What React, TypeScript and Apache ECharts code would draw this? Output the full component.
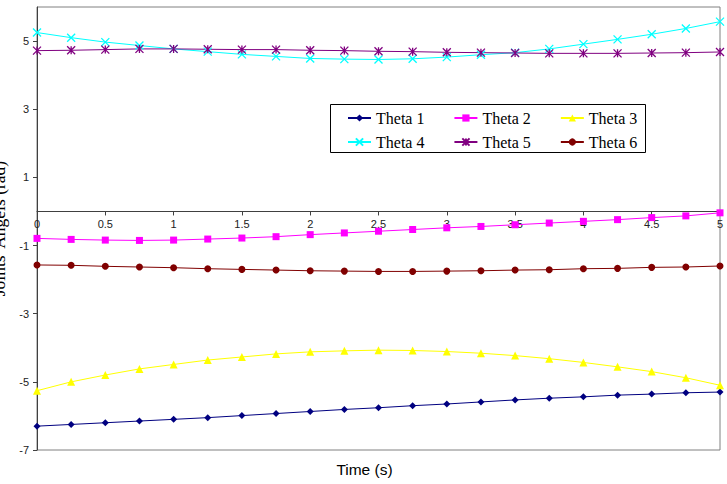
import React, { useEffect, useRef } from "react";
import * as echarts from "echarts";

const times = [0, 0.25, 0.5, 0.75, 1, 1.25, 1.5, 1.75, 2, 2.25, 2.5, 2.75, 3, 3.25, 3.5, 3.75, 4, 4.25, 4.5, 4.75, 5];

const theta1 = [-6.30, -6.25, -6.20, -6.15, -6.10, -6.05, -5.99, -5.93, -5.87, -5.81, -5.76, -5.70, -5.65, -5.59, -5.53, -5.48, -5.44, -5.39, -5.36, -5.32, -5.30];
const theta2 = [-0.79, -0.82, -0.84, -0.85, -0.84, -0.81, -0.78, -0.74, -0.68, -0.63, -0.58, -0.53, -0.48, -0.44, -0.39, -0.34, -0.29, -0.24, -0.18, -0.13, -0.04];
const theta3 = [-5.26, -5.00, -4.80, -4.62, -4.49, -4.36, -4.27, -4.18, -4.12, -4.09, -4.07, -4.08, -4.11, -4.16, -4.23, -4.32, -4.43, -4.56, -4.70, -4.88, -5.10];
const theta4 = [5.25, 5.10, 4.97, 4.87, 4.77, 4.69, 4.61, 4.55, 4.49, 4.47, 4.46, 4.48, 4.53, 4.60, 4.66, 4.77, 4.91, 5.05, 5.20, 5.37, 5.57];
const theta5 = [4.72, 4.73, 4.75, 4.77, 4.77, 4.76, 4.75, 4.75, 4.73, 4.72, 4.70, 4.69, 4.67, 4.66, 4.65, 4.64, 4.64, 4.64, 4.65, 4.66, 4.68];
const theta6 = [-1.57, -1.58, -1.61, -1.63, -1.65, -1.68, -1.70, -1.72, -1.74, -1.75, -1.76, -1.76, -1.75, -1.74, -1.72, -1.71, -1.68, -1.67, -1.64, -1.63, -1.60];

const seriesNames = ["Theta 1", "Theta 2", "Theta 3", "Theta 4", "Theta 5", "Theta 6"];
const yTickValues = [-7, -5, -3, -1, 1, 3, 5];
const xAxisTitle = "Time (s)";
const yAxisTitle = "Joints' Angels (rad)";

const SANS = "'Liberation Sans', Arial, sans-serif";
const SERIF = "'Liberation Serif', 'Times New Roman', serif";

export default function App() {
  const ref = useRef<HTMLDivElement>(null);

  useEffect(() => {
    if (!ref.current) return;
    const chart = echarts.init(ref.current, undefined, { renderer: "svg" });

    const values = [theta1, theta2, theta3, theta4, theta5, theta6];
    const colors = ["#000080", "#FF00FF", "#FFFF00", "#00FFFF", "#800080", "#800000"];
    const symbols = [
      "diamond",
      "rect",
      "triangle",
      "path://M0,0L10,10M10,0L0,10",
      "path://M0,0L10,10M10,0L0,10M5,0L5,10",
      "circle",
    ];
    const sizes = [7, 7, 8, 8, 8, 7];

    const series = values.map((vals, i) => ({
      name: seriesNames[i],
      type: "line",
      data: times.map((t, j) => [t, vals[j]]),
      symbol: symbols[i],
      symbolSize: sizes[i],
      showSymbol: true,
      lineStyle: { color: colors[i], width: 1 },
      itemStyle: { color: i === 3 || i === 4 ? "none" : colors[i], borderColor: colors[i], borderWidth: i === 3 || i === 4 ? 1.3 : 0 },
      emphasis: { disabled: true },
    }));

    const legendCommon = {
      orient: "horizontal",
      left: 347,
      padding: 0,
      itemWidth: 23,
      itemHeight: 9,
      itemGap: 29,
      textStyle: { fontFamily: SERIF, fontSize: 16, color: "#000" },
      selectedMode: false,
    };

    const gridTop = 7;
    const gridBottom = 34;
    const plotH = 484 - gridTop - gridBottom;
    const yMin = -7;
    const yMax = 6;
    // move x axis up to value 0 (distance from bottom edge of plot)
    const zeroOffset = -((0 - yMin) / (yMax - yMin)) * plotH;

    chart.setOption({
      animation: false,
      backgroundColor: "#fff",
      grid: {
        left: 37,
        right: 7,
        top: gridTop,
        bottom: gridBottom,
        containLabel: false,
        outerBoundsMode: "none",
        show: true,
        borderColor: "#808080",
        borderWidth: 1,
        backgroundColor: "transparent",
      },
      xAxis: {
        type: "value",
        min: 0,
        max: 5,
        interval: 0.5,
        position: "bottom",
        offset: zeroOffset,
        axisLine: { onZero: false, lineStyle: { color: "#404040", width: 1 } },
        axisTick: { show: true, length: 4, lineStyle: { color: "#404040" } },
        axisLabel: { fontFamily: SANS, fontSize: 11, color: "#222", margin: 7 },
        splitLine: { show: false },
      },
      yAxis: {
        type: "value",
        min: yMin,
        max: yMax,
        interval: 2,
        name: yAxisTitle,
        nameLocation: "middle",
        nameGap: 24,
        nameTextStyle: { fontFamily: SERIF, fontSize: 17.5, color: "#000" },
        axisLine: { show: true, onZero: false, lineStyle: { color: "#404040", width: 1 } },
        axisTick: { show: true, length: 4, lineStyle: { color: "#404040" }, customValues: yTickValues },
        axisLabel: { fontFamily: SANS, fontSize: 11, color: "#222", margin: 8, customValues: yTickValues },
        splitLine: { show: false },
      },
      legend: [
        { ...legendCommon, top: 110, data: seriesNames.slice(0, 3) },
        { ...legendCommon, top: 134, data: seriesNames.slice(3, 6) },
      ],
      graphic: [
        {
          type: "rect",
          shape: { x: 330.5, y: 104.5, width: 315, height: 48 },
          style: { fill: "#fff", stroke: "#000", lineWidth: 1 },
          z: 1,
        },
        {
          type: "text",
          x: 364.5,
          y: 469,
          style: {
            text: xAxisTitle,
            fontFamily: SANS,
            fontSize: 15.5,
            fill: "#000",
            align: "center",
            verticalAlign: "middle",
          },
        },
      ],
      series,
    });

    return () => chart.dispose();
  }, []);

  return (
    <div
      ref={ref}
      style={{ position: "absolute", left: 0, top: 0, width: 727, height: 484, background: "#fff" }}
    />
  );
}
